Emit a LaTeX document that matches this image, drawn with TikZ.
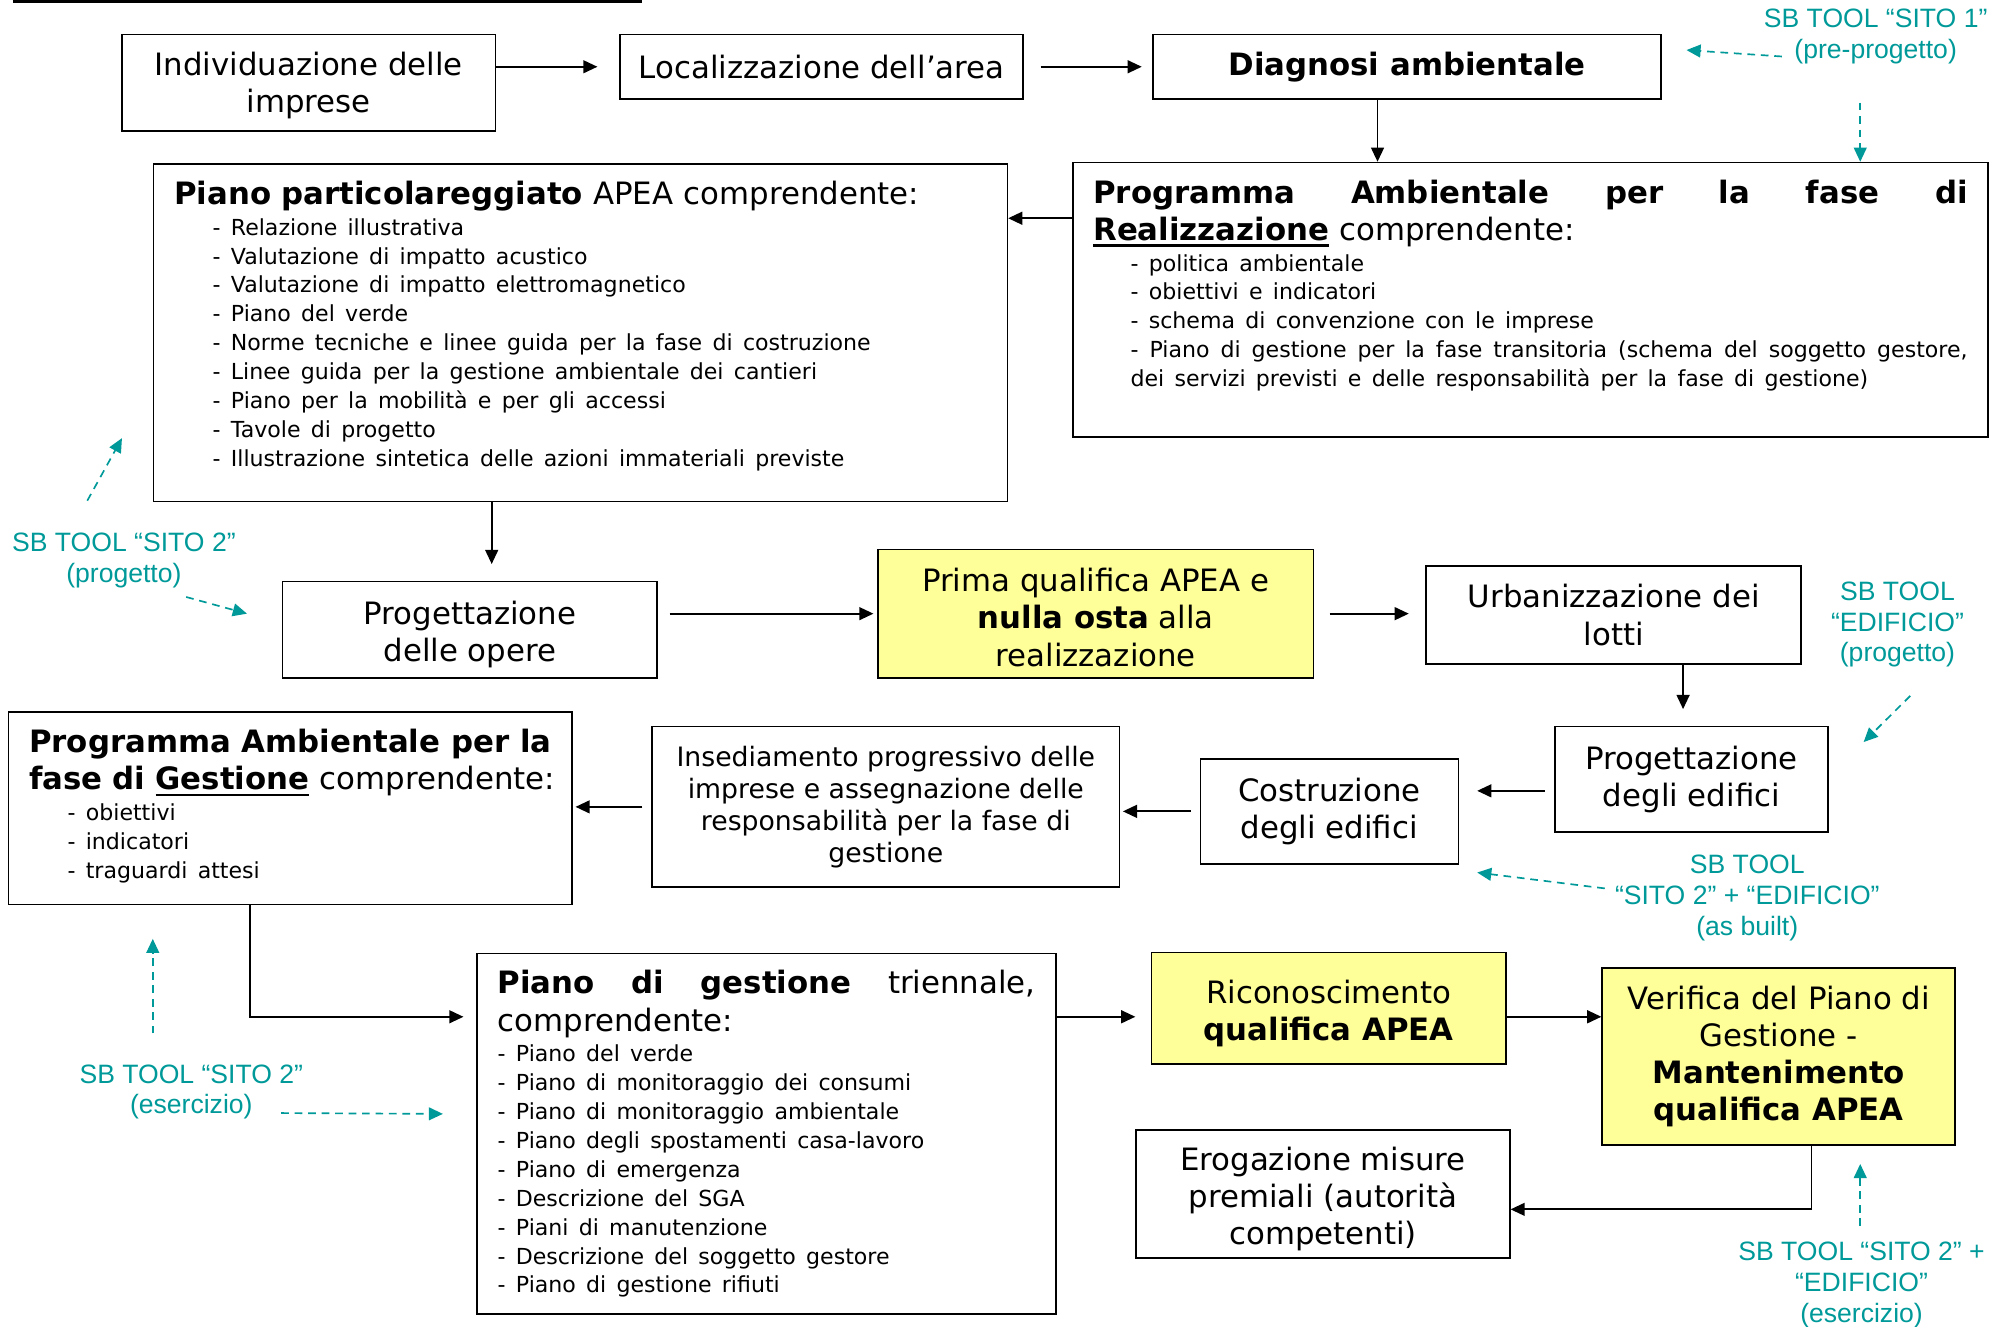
\documentclass[tikz,border=0pt]{standalone}
\usepackage{fontspec}
\setmainfont{DejaVu Sans}
\newfontfamily\toolfont{Liberation Sans}
\usetikzlibrary{arrows.meta}
\definecolor{sbteal}{RGB}{0,153,153}
\definecolor{apeayellow}{RGB}{255,255,153}
\newcommand{\bigtxt}{\fontsize{24}{29}\selectfont}
\newcommand{\midtxt}{\fontsize{20.8}{25}\selectfont}
\newcommand{\smalltxt}{\fontsize{17.2}{22.5}\selectfont}
\newcommand{\ulword}[1]{\setbox0=\hbox{#1}\rlap{\rule[-5pt]{\wd0}{1.8pt}}\box0}
\newcommand{\justline}[2]{\makebox[#1][s]{\spaceskip=0.3em plus 1fil\relax#2}}
\newcommand{\drop}[1]{\rule{0pt}{#1}}

\begin{document}
\begin{tikzpicture}[x=1pt, y=-1pt, every node/.style={font=\bigtxt},
  box/.style={draw, line width=1.3pt, align=center, inner sep=0pt},
  yel/.style={box, fill=apeayellow},
  listbox/.style={draw, line width=1.3pt, anchor=north west, align=left, inner xsep=16pt, inner ysep=0pt, text height=31.5pt},
  tool/.style={text=sbteal, align=center, inner sep=0pt, font=\toolfont\fontsize{20.7}{24}\selectfont},
  >={Triangle[length=11pt, width=10pt]},
  arr/.style={->, line width=1.4pt},
  toolarr/.style={->, sbteal, line width=1.3pt, dash pattern=on 6pt off 4.5pt}]
  \useasboundingbox (0,0) rectangle (1568,1033);
  \draw[line width=2.6pt] (10,1.3) -- (500,1.3);

  \node[box, minimum width=291pt, minimum height=75pt] (indiv) at (240.5,64.5) {\drop{22pt}Individuazione delle\\imprese};
  \node[box, minimum width=314pt, minimum height=50pt] (local) at (640,52) {Localizzazione dell’area};
  \node[box, minimum width=396pt, minimum height=50pt] (diagn) at (1096,52) {\textbf{Diagnosi ambientale}};
  \node[listbox, text width=681pt, text depth=182.5pt] (progreal) at (835,126) {%
    \justline{\hsize}{\bfseries Programma Ambientale per la fase di}\\
    \textbf{\ulword{Realizzazione}} comprendente:\par
    \vspace{1.5pt}\smalltxt\leftskip=29pt
    - politica ambientale\\
    - obiettivi e indicatori\\
    - schema di convenzione con le imprese\\
    \justline{\dimexpr\hsize-29pt\relax}{- Piano di gestione per la fase transitoria (schema del soggetto gestore,}\\
    dei servizi previsti e delle responsabilità per la fase di gestione)\par};
  \node[listbox, text width=633pt, text depth=231.5pt] (pianopart) at (119,127) {%
    \textbf{Piano particolareggiato} APEA comprendente:\par
    \vspace{1.5pt}\smalltxt\leftskip=30pt
    - Relazione illustrativa\\
    - Valutazione di impatto acustico\\
    - Valutazione di impatto elettromagnetico\\
    - Piano del verde\\
    - Norme tecniche e linee guida per la fase di costruzione\\
    - Linee guida per la gestione ambientale dei cantieri\\
    - Piano per la mobilità e per gli accessi\\
    - Tavole di progetto\\
    - Illustrazione sintetica delle azioni immateriali previste\par};
  \node[box, minimum width=292pt, minimum height=75pt] (progopere) at (366,490.5) {\drop{25.5pt}Progettazione\\delle opere};
  \node[yel, minimum width=339pt, minimum height=100pt] (qualif) at (853.5,478) {\drop{24pt}Prima qualifica APEA e\\\textbf{nulla osta} alla\\realizzazione};
  \node[box, minimum width=292pt, minimum height=76pt] (urban) at (1257,479) {Urbanizzazione dei\\lotti};
  \node[box, minimum width=213pt, minimum height=82pt] (progedif) at (1317.5,607) {Progettazione\\degli edifici};
  \node[box, minimum width=201pt, minimum height=82pt] (costr) at (1035.5,632) {Costruzione\\degli edifici};
  \node[box, minimum width=364pt, minimum height=125pt, font=\midtxt] (insed) at (690,628.5) {Insediamento progressivo delle\\imprese e assegnazione delle\\responsabilità per la fase di\\gestione};
  \node[listbox, text width=407pt, text depth=118.5pt] (proggest) at (6,554) {%
    \justline{\hsize}{\bfseries Programma Ambientale per la}\\
    \mbox{\textbf{fase di \ulword{Gestione}} comprendente:}\par
    \vspace{1.5pt}\smalltxt\leftskip=30pt
    - obiettivi\\
    - indicatori\\
    - traguardi attesi\par};
  \node[listbox, text width=419pt, text depth=249.5pt] (pianogest) at (371,742) {%
    \justline{\hsize}{\textbf{Piano di gestione} triennale,}\\
    comprendente:\par
    \vspace{1.5pt}\smalltxt
    - Piano del verde\\
    - Piano di monitoraggio dei consumi\\
    - Piano di monitoraggio ambientale\\
    - Piano degli spostamenti casa-lavoro\\
    - Piano di emergenza\\
    - Descrizione del SGA\\
    - Piani di manutenzione\\
    - Descrizione del soggetto gestore\\
    - Piano di gestione rifiuti\par};
  \node[yel, minimum width=276pt, minimum height=87pt] (ricon) at (1035,785.5) {\drop{26pt}Riconoscimento\\\textbf{qualifica APEA}};
  \node[yel, minimum width=275pt, minimum height=138pt] (verif) at (1385.5,823) {Verifica del Piano di\\Gestione -\\\textbf{Mantenimento}\\\textbf{qualifica APEA}};
  \node[box, minimum width=291pt, minimum height=100pt] (erog) at (1030.5,930) {\drop{26pt}Erogazione misure\\premiali (autorità\\competenti)};

  \node[tool] (tool1) at (1461,28.5) {SB TOOL “SITO 1”\\(pre-progetto)};
  \node[tool] (tool2) at (96.5,436.5) {SB TOOL “SITO 2”\\(progetto)};
  \node[tool] (tool3) at (1478,486.5) {SB TOOL\\“EDIFICIO”\\(progetto)};
  \node[tool] (tool4) at (1361,699.5) {SB TOOL\\“SITO 2” + “EDIFICIO”\\(as built)};
  \node[tool] (tool5) at (149,850.5) {SB TOOL “SITO 2”\\(esercizio)};
  \node[tool] (tool6) at (1450,1001) {SB TOOL “SITO 2” +\\“EDIFICIO”\\(esercizio)};

  \draw[arr, shorten >=17pt] (indiv.east |- local.west) -- (local.west);
  \draw[arr, shorten <=13pt, shorten >=8pt] (local.east) -- (diagn.west);
  \coordinate (c1) at ([xshift=-23pt]diagn.south);
  \draw[arr] (c1) -- (c1 |- progreal.north);
  \coordinate (c2) at ([yshift=-44pt]progreal.north west);
  \draw[arr] (c2) -- (c2 -| pianopart.east);
  \coordinate (c3) at ([xshift=17pt]progopere.north);
  \draw[arr, shorten >=13pt] (c3 |- pianopart.south) -- (c3);
  \draw[arr, shorten <=9pt, shorten >=3pt] (progopere.east |- qualif.west) -- (qualif.west);
  \draw[arr, shorten <=12pt, shorten >=13pt] (qualif.east) -- (qualif.east -| urban.west);
  \coordinate (c4) at ([xshift=54pt]urban.south);
  \draw[arr, shorten >=13pt] (c4) -- (c4 |- progedif.north);
  \coordinate (c5) at ([yshift=-9pt]progedif.west);
  \draw[arr, shorten <=7pt, shorten >=14pt] (c5) -- (c5 -| costr.east);
  \draw[arr, shorten <=7pt, shorten >=2pt] (costr.west) -- (costr.west -| insed.east);
  \draw[arr, shorten <=7pt, shorten >=2pt] (insed.west) -- (insed.west -| proggest.east);
  \coordinate (c6) at ([xshift=-31.5pt]proggest.south);
  \coordinate (c7) at ([yshift=-50pt]pianogest.north west);
  \draw[arr, shorten >=10pt] (c6) |- (c7);
  \draw[arr, shorten >=12pt] (c7 -| pianogest.east) -- (c7 -| ricon.west);
  \draw[arr] (c7 -| ricon.east) -- (c7 -| verif.west);
  \coordinate (c8) at ([xshift=25.5pt]verif.south);
  \coordinate (c9) at ([yshift=-12pt]erog.east);
  \draw[arr] (c8) |- (c9);

  \draw[toolarr] ([xshift=-73pt, yshift=-15.5pt]tool1.center) -- ([xshift=19pt, yshift=13pt]diagn.east);
  \coordinate (s1) at ([xshift=-12pt, yshift=-51.5pt]tool1.center);
  \draw[toolarr] (s1) -- (s1 |- progreal.north);
  \draw[toolarr] ([xshift=-28.5pt, yshift=46.5pt]tool2.center) -- ([xshift=-24pt, yshift=50pt]pianopart.south west);
  \draw[toolarr] ([xshift=48.5pt, yshift=-28.5pt]tool2.center) -- ([xshift=-27pt, yshift=12.5pt]progopere.west);
  \draw[toolarr] ([xshift=10pt, yshift=-55.5pt]tool3.center) -- ([xshift=27pt, yshift=29pt]progedif.east);
  \draw[toolarr] ([xshift=-111pt, yshift=7.5pt]tool4.center) -- ([xshift=14pt, yshift=-6pt]costr.south east);
  \draw[toolarr] ([xshift=-30pt, yshift=45.5pt]tool5.center) -- ([xshift=113pt, yshift=-26pt]proggest.south west);
  \draw[toolarr] ([xshift=70pt, yshift=-16.5pt]tool5.center) -- ([xshift=-26pt, yshift=15.5pt]pianogest.west);
  \draw[toolarr] ([xshift=-1pt, yshift=46pt]tool6.center) -- ([xshift=63.5pt, yshift=-14pt]verif.south);
\end{tikzpicture}
\end{document}
